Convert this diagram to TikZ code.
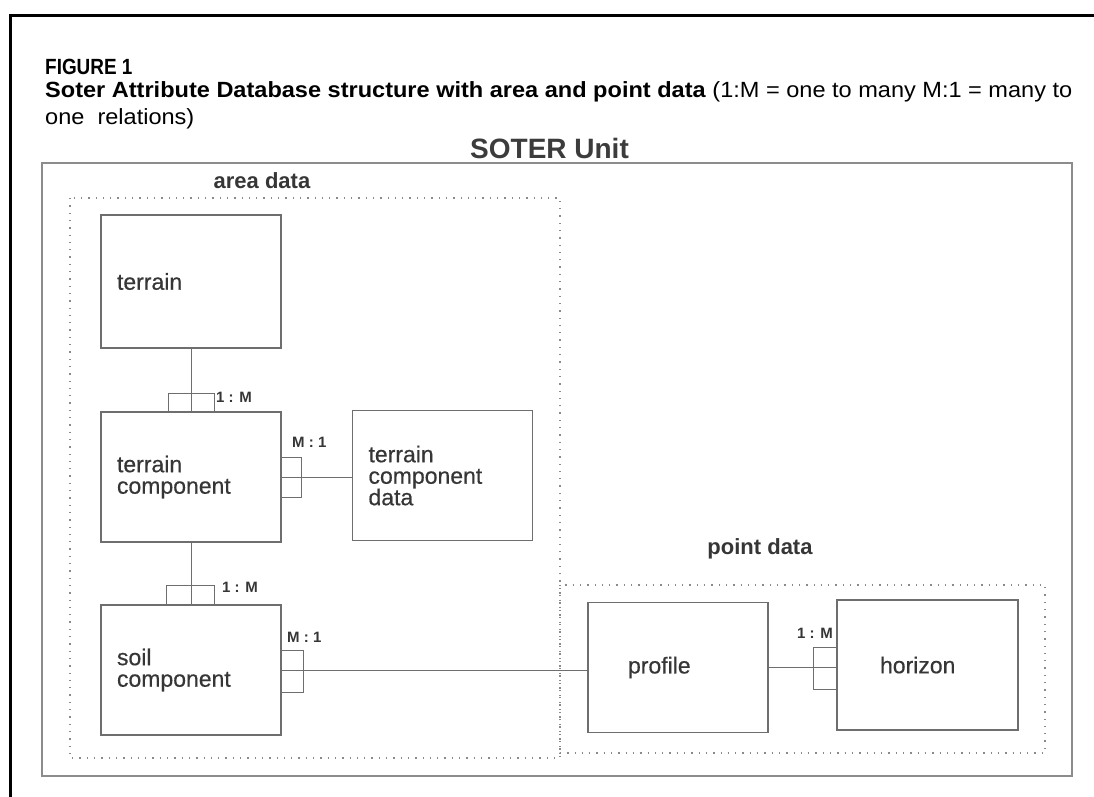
\documentclass[tikz,border=0pt]{standalone}
\usepackage{fontspec}
\setmainfont{Liberation Sans}
\newfontfamily\figfont{Liberation Sans}[FakeStretch=0.86]
\newfontfamily\capfont{Liberation Sans}[FakeStretch=1.07]
\newfontfamily\boxfont{Liberation Sans}[FakeBold=0.5]
\definecolor{boxc}{HTML}{6E6E6E}
\definecolor{txtc}{HTML}{363636}
\definecolor{dotc}{HTML}{8A8A8A}
\definecolor{soterc}{HTML}{8C8C8C}
\definecolor{titlec}{HTML}{3C3C3C}
\begin{document}
\begin{tikzpicture}[x=1pt,y=-1pt,
  ebox/.style={draw=boxc, line width=1.1pt, text width=148pt, inner xsep=16pt, inner ysep=0pt,
    minimum height=130pt, align=left, font=\boxfont\fontsize{23}{21.5}\selectfont, text=txtc},
  link/.style={draw=boxc, line width=1pt},
  brk/.style={draw=boxc, line width=1pt},
  card/.style={font=\bfseries\fontsize{15}{15}\selectfont, text=txtc, inner sep=0pt, anchor=base west},
  dotbox/.style={draw=dotc, line width=1.3pt, dash pattern=on 1.3pt off 6pt},
  grp/.style={font=\bfseries\fontsize{22}{22}\selectfont, text=txtc, inner sep=0pt}
]
\useasboundingbox (0,0) rectangle (1094,796);
% outer frame
\draw[line width=3pt] (10,805) -- (10,15) -- (1100,15);
% caption
\node[anchor=base west, inner sep=0pt, font=\figfont\bfseries\fontsize{22}{22}\selectfont] (fig) at (45,74) {FIGURE 1};
\node[anchor=base west, inner sep=0pt, font=\capfont\fontsize{22}{22}\selectfont] (cap1) at (45,97)
  {\textbf{Soter Attribute Database structure with area and point data} (1:M = one to many M:1 = many to};
\node[anchor=base west, inner sep=0pt, font=\capfont\fontsize{22}{22}\selectfont] (cap2) at (45,124) {one\ \ relations)};
% SOTER unit
\draw[draw=soterc, line width=1.6pt] (42,163) rectangle (1072,776);
\node[anchor=base west, inner sep=0pt, font=\bfseries\fontsize{28}{28}\selectfont, text=titlec] (title) at (470,158) {SOTER Unit};
% groups
\draw[dotbox] (70,198) rectangle (560,758);
\draw[dotbox] (560,585) rectangle (1045,753);
\node[grp] (areal) at (262,181) {area data};
\node[grp] (pointl) at (760,549) {point data};
% boxes
\node[ebox, minimum height=133pt] (terrain) at (191,281.5) {terrain};
\node[ebox] (tc) at (191,477) {terrain\\component};
\node[ebox] (tcd) at (442.5,475.5) {terrain\\component\\data};
\node[ebox] (soil) at (191,670) {soil\\component};
\node[ebox, text width=100pt, inner xsep=40pt] (profile) at (678,667.5) {profile};
\node[ebox, text width=95pt, inner xsep=43pt] (horizon) at (927.5,665) {horizon};
% terrain -> terrain component
\draw[link] (terrain.south) -- (tc.north);
\draw[brk] (tc.north) ++(-23,0) -- ++(0,-18) -- ++(46,0) -- ++(0,18);
\node[card] (c1) at (216,402) {1 : M};
% terrain component -> terrain component data
\draw[link] (tc.east) -- (tc.east -| tcd.west);
\draw[brk] (tc.east) ++(0,-20) -- ++(20,0) -- ++(0,40) -- ++(-20,0);
\node[card] (c2) at (292,447) {M : 1};
% terrain component -> soil component
\draw[link] (tc.south) -- (soil.north);
\draw[brk] (soil.north) ++(-25,0) -- ++(0,-19) -- ++(48,0) -- ++(0,19);
\node[card] (c3) at (222,592) {1 : M};
% soil component -> profile
\draw[link] (soil.east) -- (soil.east -| profile.west);
\draw[brk] (soil.east) ++(0,-20) -- ++(22,0) -- ++(0,42) -- ++(-22,0);
\node[card] (c4) at (287,642) {M : 1};
% profile -> horizon
\draw[link] (profile.east) -- (profile.east -| horizon.west);
\draw[brk] (horizon.west) ++(0,-18) -- ++(-23,0) -- ++(0,42) -- ++(23,0);
\node[card] (c5) at (797,638) {1 : M};
\end{tikzpicture}
\end{document}
